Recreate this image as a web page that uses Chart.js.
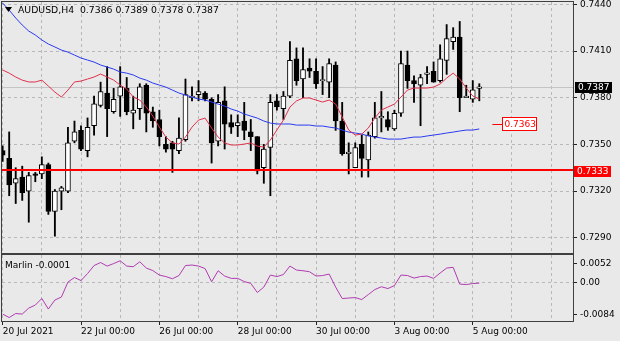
<!DOCTYPE html>
<html>
<head>
<meta charset="utf-8">
<title>AUDUSD H4</title>
<script src="https://cdn.jsdelivr.net/npm/chart.js@4.4.0/dist/chart.umd.min.js"></script>
<style>
  html, body { margin: 0; padding: 0; background: #e9e9e9; }
  #wrap { position: relative; width: 620px; height: 341px; overflow: hidden; }
  canvas { position: absolute; left: 0; }
  #main { top: 0; }
  #osc { top: 254px; }
</style>
</head>
<body>
<div id="wrap">
  <canvas id="main" width="620" height="254"></canvas>
  <canvas id="osc" width="620" height="87"></canvas>
</div>
<script>
/* ═══════════════════════════════════════
   AUDUSD H4 — candles + MAs + Marlin
   ═══════════════════════════════════════ */

const SYMBOL = 'AUDUSD,H4';

/* ──────── DATA (H4 bars, 20 Jul 2021 00:00 → 5 Aug 2021 04:00) ──────── */

const opens = [
  0.7346, 0.7341, 0.7325, 0.7329, 0.7320, 0.7331, 0.7331, 0.7337, 0.7307, 0.7320,
  0.7320, 0.7352, 0.7359, 0.7346, 0.7362, 0.7375, 0.7383, 0.7371, 0.7381, 0.7386,
  0.7370, 0.7373, 0.7388, 0.7371, 0.7366, 0.7350, 0.7351, 0.7346, 0.7353, 0.7380,
  0.7382, 0.7383, 0.7379, 0.7352, 0.7378, 0.7364, 0.7362, 0.7365, 0.7358, 0.7355,
  0.7335, 0.7348, 0.7378, 0.7373, 0.7381, 0.7405, 0.7392, 0.7399, 0.7397, 0.7391,
  0.7390, 0.7401, 0.7365, 0.7344, 0.7335, 0.7350, 0.7340, 0.7355, 0.7367, 0.7366,
  0.7360, 0.7370, 0.7401, 0.7391, 0.7388, 0.7395, 0.7397, 0.7391, 0.7404, 0.7416,
  0.7419, 0.7380, 0.7379, 0.7386
];
const highs = [
  0.7349, 0.7358, 0.7335, 0.7336, 0.7332, 0.7332, 0.7342, 0.7338, 0.7321, 0.7323,
  0.7361, 0.7365, 0.7362, 0.7367, 0.7381, 0.7390, 0.7400, 0.7386, 0.7400, 0.7393,
  0.7381, 0.7389, 0.7389, 0.7374, 0.7372, 0.7355, 0.7352, 0.7367, 0.7392, 0.7387,
  0.7391, 0.7384, 0.7380, 0.7382, 0.7387, 0.7369, 0.7369, 0.7377, 0.7366, 0.7355,
  0.7350, 0.7382, 0.7382, 0.7384, 0.7416, 0.7412, 0.7412, 0.7405, 0.7405, 0.7400,
  0.7405, 0.7403, 0.7377, 0.7351, 0.7351, 0.7356, 0.7358, 0.7377, 0.7384, 0.7371,
  0.7372, 0.7410, 0.7410, 0.7394, 0.7395, 0.7400, 0.7403, 0.7414, 0.7427, 0.7425,
  0.7429, 0.7388, 0.7391, 0.7389
];
const lows = [
  0.7339, 0.7317, 0.7312, 0.7314, 0.7300, 0.7326, 0.7328, 0.7305, 0.7291, 0.7308,
  0.7319, 0.7351, 0.7346, 0.7342, 0.7356, 0.7374, 0.7355, 0.7370, 0.7368, 0.7369,
  0.7360, 0.7366, 0.7358, 0.7361, 0.7349, 0.7345, 0.7332, 0.7344, 0.7352, 0.7378,
  0.7378, 0.7378, 0.7338, 0.7349, 0.7347, 0.7357, 0.7355, 0.7353, 0.7346, 0.7331,
  0.7325, 0.7317, 0.7372, 0.7366, 0.7380, 0.7388, 0.7380, 0.7393, 0.7386, 0.7382,
  0.7380, 0.7359, 0.7343, 0.7331, 0.7335, 0.7329, 0.7329, 0.7354, 0.7358, 0.7359,
  0.7359, 0.7368, 0.7386, 0.7377, 0.7362, 0.7389, 0.7390, 0.7390, 0.7395, 0.7411,
  0.7371, 0.7380, 0.7377, 0.7378
];
const closes = [
  0.7343, 0.7324, 0.7328, 0.7319, 0.7330, 0.7330, 0.7337, 0.7307, 0.7320, 0.7322,
  0.7351, 0.7358, 0.7347, 0.7361, 0.7376, 0.7384, 0.7373, 0.7379, 0.7387, 0.7371,
  0.7372, 0.7387, 0.7370, 0.7365, 0.7355, 0.7347, 0.7347, 0.7354, 0.7382, 0.7381,
  0.7384, 0.7379, 0.7351, 0.7377, 0.7363, 0.7361, 0.7364, 0.7359, 0.7355, 0.7333,
  0.7347, 0.7377, 0.7374, 0.7381, 0.7404, 0.7391, 0.7398, 0.7397, 0.7389, 0.7391,
  0.7402, 0.7365, 0.7344, 0.7345, 0.7348, 0.7341, 0.7356, 0.7367, 0.7368, 0.7361,
  0.7370, 0.7402, 0.7391, 0.7389, 0.7393, 0.7396, 0.7390, 0.7405, 0.7418, 0.7419,
  0.7380, 0.7381, 0.7385, 0.7387
];

// red moving average
const fastMA = [
  0.73978, 0.73958, 0.73933, 0.73913, 0.73901, 0.73901, 0.73913, 0.73875, 0.73836, 0.73804,
  0.73849, 0.73901, 0.73907, 0.73920, 0.73933, 0.73952, 0.73933, 0.73913, 0.73881, 0.73856,
  0.73804, 0.73785, 0.73740, 0.73682, 0.73611, 0.73547, 0.73509, 0.73502, 0.73547, 0.73611,
  0.73656, 0.73669, 0.73605, 0.73547, 0.73509, 0.73496, 0.73496, 0.73502, 0.73509, 0.73489,
  0.73483, 0.73528, 0.73592, 0.73656, 0.73740, 0.73779, 0.73798, 0.73798, 0.73785, 0.73772,
  0.73785, 0.73759, 0.73676, 0.73592, 0.73560, 0.73566, 0.73605, 0.73669, 0.73721, 0.73740,
  0.73759, 0.73804, 0.73849, 0.73862, 0.73862, 0.73862, 0.73868, 0.73888, 0.73926, 0.73958,
  0.73920, 0.73862, 0.73811, 0.73791
];

// blue moving average
const slowMA = [
  0.74408, 0.74363, 0.74312, 0.74267, 0.74228, 0.74203, 0.74171, 0.74145, 0.74126, 0.74106,
  0.74093, 0.74074, 0.74055, 0.74042, 0.74029, 0.74010, 0.73997, 0.73984, 0.73965, 0.73958,
  0.73946, 0.73926, 0.73913, 0.73894, 0.73881, 0.73868, 0.73849, 0.73830, 0.73817, 0.73804,
  0.73791, 0.73785, 0.73772, 0.73759, 0.73746, 0.73727, 0.73714, 0.73695, 0.73682, 0.73669,
  0.73650, 0.73637, 0.73631, 0.73631, 0.73631, 0.73624, 0.73624, 0.73624, 0.73618, 0.73618,
  0.73611, 0.73605, 0.73592, 0.73579, 0.73573, 0.73566, 0.73554, 0.73547, 0.73541, 0.73534,
  0.73534, 0.73534, 0.73541, 0.73547, 0.73547, 0.73554, 0.73560, 0.73566, 0.73573, 0.73579,
  0.73586, 0.73592, 0.73592, 0.73599
];

// Marlin oscillator
const marlin = [
  -0.00835, -0.00928, -0.00821, -0.00835, -0.00675, -0.00595, -0.00421, -0.00701, -0.00461, -0.00381,
   0.00019,  0.00139,  0.00059,  0.00245,  0.00459,  0.00539,  0.00445,  0.00512,  0.00587,  0.00445,
   0.00427,  0.00560,  0.00392,  0.00325,  0.00205,  0.00165,  0.00107,  0.00192,  0.00459,  0.00472,
   0.00445,  0.00379,  0.00027,  0.00320,  0.00179,  0.00117,  0.00117,  0.00032, -0.00016, -0.00261,
  -0.00115,  0.00205,  0.00165,  0.00219,  0.00445,  0.00339,  0.00320,  0.00293,  0.00179,  0.00192,
   0.00232, -0.00115, -0.00421, -0.00408, -0.00395, -0.00448, -0.00315, -0.00181, -0.00107, -0.00155,
  -0.00075,  0.00205,  0.00192,  0.00125,  0.00165,  0.00179,  0.00117,  0.00259,  0.00392,  0.00411,
  -0.00035, -0.00048, -0.00021, -0.00010
];

const priceTicks = [0.7290, 0.7320, 0.7350, 0.7380, 0.7410, 0.7440];
const marlinTicks = [-0.0084, 0, 0.0052];
const dayTicks = [0, 6, 12, 18, 24, 30, 36, 42, 48, 54, 60, 66, 72, 78, 84];
const timeLabelBars = [0, 12, 24, 36, 48, 60, 72];
const timeLabels = ['20 Jul 2021', '22 Jul 00:00', '26 Jul 00:00', '28 Jul 00:00',
                    '30 Jul 00:00', '3 Aug 00:00', '5 Aug 00:00'];

const BID_PRICE = 0.7387;
const LEVEL_PRICE = 0.7333;
const MA_LABEL_PRICE = 0.7363;
const MA_LABEL_BAR = 75;

/* ──────── VIEW ──────── */

const X_MIN = -0.1, X_MAX = 87.35;
const PRICE_MIN = 0.72802, PRICE_MAX = 0.74415;
const MARLIN_MIN = -0.0102, MARLIN_MAX = 0.0074;
const AXIS_W = 47;

const GRID = '#b8b8b8';
const FRAME = '#404040';
const RED_MA = '#e0304c';
const BLUE_MA = '#2a3af0';
const PURPLE = '#b03cb0';
const CLEAR = 'rgba(0,0,0,0)';

Chart.defaults.font.family = "'DejaVu Sans', sans-serif";
Chart.defaults.font.size = 9;
Chart.defaults.color = '#000';

const bars = opens.map((_, i) => i);

// pin the axis box so the plot area lands where the reference has it
function fixBox(size, dim) {
  return s => {
    s[dim] = size;
    s.paddingTop = s.paddingBottom = s.paddingLeft = s.paddingRight = 0;
  };
}

function drawFrame(ctx, ca) {
  ctx.save();
  ctx.strokeStyle = FRAME;
  ctx.lineWidth = 1;
  ctx.strokeRect(Math.floor(ca.left) - 0.5, Math.floor(ca.top) - 0.5,
                 Math.round(ca.right - ca.left) + 1, Math.round(ca.bottom - ca.top) + 1);
  ctx.restore();
}

function priceTag(ctx, x, y, text, bg, fg) {
  ctx.fillStyle = bg;
  ctx.fillRect(x, Math.round(y) - 5, 37, 11);
  ctx.fillStyle = fg;
  ctx.textBaseline = 'middle';
  ctx.textAlign = 'left';
  ctx.fillText(text, x + 3, Math.round(y) + 0.5);
}

/* ──────── MAIN PANEL ──────── */

const mainOverlay = {
  id: 'mainOverlay',
  beforeDatasetsDraw(chart) {
    const { ctx, chartArea: ca, scales: { y } } = chart;
    const yb = Math.round(y.getPixelForValue(BID_PRICE)) + 0.5;
    ctx.save();
    ctx.strokeStyle = '#c4c4c4';
    ctx.lineWidth = 1;
    ctx.beginPath();
    ctx.moveTo(ca.left, yb);
    ctx.lineTo(ca.right, yb);
    ctx.stroke();
    ctx.restore();
  },
  afterDraw(chart) {
    const { ctx, chartArea: ca, scales: { x, y } } = chart;
    ctx.save();
    ctx.font = "9px 'DejaVu Sans'";

    // horizontal level, 2px like the terminal draws it
    const yl = Math.floor(y.getPixelForValue(LEVEL_PRICE));
    ctx.strokeStyle = '#ff0000';
    ctx.lineWidth = 2;
    ctx.beginPath();
    ctx.moveTo(ca.left, yl);
    ctx.lineTo(ca.right, yl);
    ctx.stroke();
    ctx.lineWidth = 1;

    drawFrame(ctx, ca);

    // price tags on the axis
    priceTag(ctx, ca.right + 2, y.getPixelForValue(BID_PRICE), BID_PRICE.toFixed(4), '#000', '#fff');
    priceTag(ctx, ca.right + 1, y.getPixelForValue(LEVEL_PRICE), LEVEL_PRICE.toFixed(4), '#ff0000', '#fff');

    // MA price label
    const ym = Math.round(y.getPixelForValue(MA_LABEL_PRICE)) + 0.5;
    const x0 = x.getPixelForValue(MA_LABEL_BAR);
    const x1 = Math.round(x.getPixelForValue(MA_LABEL_BAR + 1.4)) + 0.5;
    ctx.strokeStyle = '#ff0000';
    ctx.beginPath();
    ctx.moveTo(x0, ym);
    ctx.lineTo(x1, ym);
    ctx.stroke();
    ctx.fillStyle = '#ffffff';
    ctx.fillRect(x1, ym - 7, 34, 13);
    ctx.strokeRect(x1, ym - 7, 34, 13);
    ctx.fillStyle = '#ff0000';
    ctx.textBaseline = 'middle';
    ctx.fillText(MA_LABEL_PRICE.toFixed(4), x1 + 2, ym);

    // title
    const last = opens.length - 1;
    ctx.fillStyle = '#000';
    ctx.beginPath();
    ctx.moveTo(ca.left + 3, ca.top + 5);
    ctx.lineTo(ca.left + 10, ca.top + 5);
    ctx.lineTo(ca.left + 6.5, ca.top + 10);
    ctx.closePath();
    ctx.fill();
    ctx.font = "9.3px 'DejaVu Sans'";
    ctx.fillText(`${SYMBOL}  ${opens[last].toFixed(4)} ${highs[last].toFixed(4)} ${lows[last].toFixed(4)} ${closes[last].toFixed(4)}`,
                 ca.left + 16, ca.top + 8.5);
    ctx.restore();
  }
};

new Chart(document.getElementById('main'), {
  type: 'bar',
  data: {
    datasets: [
      {
        type: 'line',
        data: bars.map(i => ({ x: i, y: fastMA[i] })),
        borderColor: RED_MA, borderWidth: 1, pointRadius: 0, order: 0,
      },
      {
        type: 'line',
        data: bars.map(i => ({ x: i, y: slowMA[i] })),
        borderColor: BLUE_MA, borderWidth: 1, pointRadius: 0, order: 0,
      },
      {
        data: bars.map(i => ({ x: i, y: [opens[i], closes[i]] })),
        backgroundColor: bars.map(i => closes[i] >= opens[i] ? '#ffffff' : '#000000'),
        borderColor: '#000', borderWidth: 1, borderSkipped: false,
        barThickness: 5, minBarLength: 1, grouped: false, order: 1,
      },
      {
        data: bars.map(i => ({ x: i, y: [lows[i], highs[i]] })),
        backgroundColor: '#000', barThickness: 1.2, grouped: false, order: 2,
      },
    ]
  },
  options: {
    responsive: false,
    animation: false,
    devicePixelRatio: 1,
    layout: { padding: { top: 2, left: 2, right: 0, bottom: 1 } },
    plugins: { legend: { display: false }, tooltip: { enabled: false } },
    scales: {
      x: {
        type: 'linear', min: X_MIN, max: X_MAX, offset: false,
        afterBuildTicks: s => { s.ticks = dayTicks.map(v => ({ value: v })); },
        afterFit: fixBox(0, 'height'),
        ticks: { display: false },
        grid: { color: GRID, drawTicks: false, offset: false },
        border: { display: false, dash: [3, 3] },
      },
      y: {
        position: 'right', min: PRICE_MIN, max: PRICE_MAX,
        afterBuildTicks: s => { s.ticks = priceTicks.map(v => ({ value: v })); },
        afterFit: fixBox(AXIS_W, 'width'),
        ticks: { callback: v => v.toFixed(4), padding: 3 },
        grid: { color: GRID, tickColor: '#222', tickLength: 4, tickBorderDash: [] },
        border: { display: false, dash: [3, 3] },
      }
    }
  },
  plugins: [mainOverlay]
});

/* ──────── MARLIN PANEL ──────── */

const oscOverlay = {
  id: 'oscOverlay',
  afterDraw(chart) {
    const { ctx, chartArea: ca } = chart;
    drawFrame(ctx, ca);
    ctx.save();
    ctx.font = "9px 'DejaVu Sans'";
    ctx.fillStyle = '#000';
    ctx.textBaseline = 'middle';
    ctx.fillText('Marlin ' + marlin[marlin.length - 1].toFixed(4), ca.left + 3, ca.top + 11);
    ctx.restore();
  }
};

new Chart(document.getElementById('osc'), {
  type: 'line',
  data: {
    datasets: [{
      data: bars.map(i => ({ x: i, y: marlin[i] })),
      borderColor: PURPLE, borderWidth: 1, pointRadius: 0,
    }]
  },
  options: {
    responsive: false,
    animation: false,
    devicePixelRatio: 1,
    layout: { padding: { top: 1, left: 2, right: 0, bottom: 0 } },
    plugins: { legend: { display: false }, tooltip: { enabled: false } },
    scales: {
      x: {
        type: 'linear', min: X_MIN, max: X_MAX,
        afterBuildTicks: s => { s.ticks = dayTicks.map(v => ({ value: v })); },
        afterFit: fixBox(20, 'height'),
        ticks: {
          align: 'start', autoSkip: false, maxRotation: 0, minRotation: 0, padding: 1,
          callback: v => {
            const k = timeLabelBars.indexOf(v);
            return k >= 0 ? timeLabels[k] : '';
          }
        },
        grid: {
          color: GRID, tickLength: 4, tickBorderDash: [],
          tickColor: c => (c.tick && timeLabelBars.includes(c.tick.value)) ? '#222' : CLEAR,
        },
        border: { display: false, dash: [3, 3] },
      },
      y: {
        position: 'right', min: MARLIN_MIN, max: MARLIN_MAX,
        afterBuildTicks: s => { s.ticks = marlinTicks.map(v => ({ value: v })); },
        afterFit: fixBox(AXIS_W, 'width'),
        ticks: { callback: v => v === 0 ? '0.00' : v.toFixed(4), padding: 3 },
        grid: {
          color: c => (c.tick && c.tick.value === 0) ? GRID : CLEAR,
          tickColor: '#222', tickLength: 4, tickBorderDash: [],
        },
        border: { display: false, dash: [3, 3] },
      }
    }
  },
  plugins: [oscOverlay]
});
</script>
</body>
</html>
